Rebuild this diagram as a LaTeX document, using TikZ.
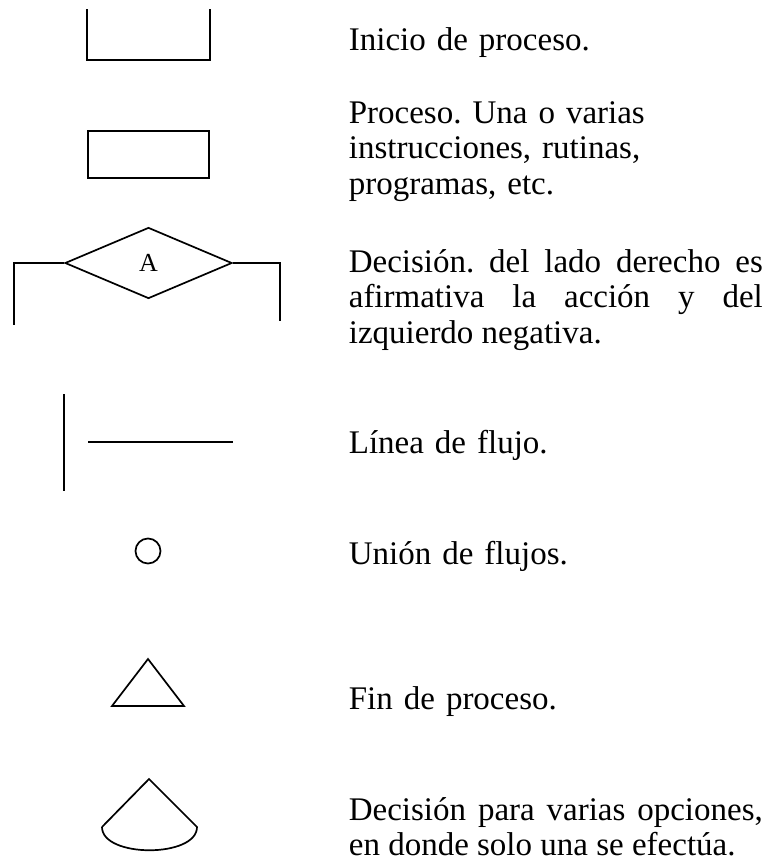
\documentclass[tikz,border=0pt]{standalone}
\usepackage{fontspec}
\setmainfont{Liberation Serif}
\usetikzlibrary{shapes.geometric}
\frenchspacing

\begin{document}
\begin{tikzpicture}[x=1pt, y=-1pt, line width=1.7pt, every node/.style={inner sep=0pt}]
    \tikzstyle{symbol}=[draw, line width=1.7pt]
    \tikzstyle{desc}=[anchor=base west, text width=414pt, font=\fontsize{33}{35.5}\selectfont]
    \useasboundingbox (0,0) rectangle (768,863);

    % simbolos
    \node[minimum width=121pt, minimum height=49pt] (inicio) at (148.5,34.5) {};
    \node[symbol, minimum width=121pt, minimum height=47pt] (proceso) at (148.5,154.5) {};
    \node[symbol, diamond, minimum width=167pt, minimum height=71pt, font=\fontsize{26}{26}\selectfont] (decision) at (148.5,263) {\raisebox{-3pt}{A}};
    \node[symbol, circle, minimum size=25pt] (union) at (148,551) {};

    \coordinate (izqpie) at (14,325);
    \coordinate (derpie) at (280,321);
    \coordinate (flujoa) at (64,394);
    \coordinate (flujob) at (64,491);
    \coordinate (flujoc) at (88,442);
    \coordinate (flujod) at (233,442);
    \coordinate (finpico) at (148,659);
    \coordinate (finder) at (184,706);
    \coordinate (finizq) at (112,706);
    \coordinate (multipico) at (149,779);
    \coordinate (multider) at (197,827);
    \coordinate (multiizq) at (102,827);

    \draw (inicio.north west) -- (inicio.south west) -- (inicio.south east) -- (inicio.north east);
    \draw (decision.west) -| (izqpie);
    \draw (decision.east) -| (derpie);
    \draw (flujoa) -- (flujob);
    \draw (flujoc) -- (flujod);
    \draw (finpico) -- (finder) -- (finizq) -- cycle;
    \draw (multiizq) -- (multipico) -- (multider) .. controls +(0,31) and +(0,31) .. (multiizq);

    % textos
    \node[desc] (tinicio) at (348,50) {Inicio de proceso.};
    \node[desc, align=left] (tproceso) at (348,123) {Proceso. Una o varias\\instrucciones, rutinas,\\programas, etc.};
    \node[desc, align=justify] (tdecision) at (348,272) {Decisión. del lado derecho es\linebreak afirmativa la acción y del\linebreak izquierdo negativa.};
    \node[desc] (tflujo) at (348,453) {Línea de flujo.};
    \node[desc] (tunion) at (348,564) {Unión de flujos.};
    \node[desc] (tfin) at (348,709) {Fin de proceso.};
    \node[desc, align=justify] (tmulti) at (348,820) {Decisión para varias opciones,\linebreak en donde solo una se efectúa.};
\end{tikzpicture}
\end{document}
